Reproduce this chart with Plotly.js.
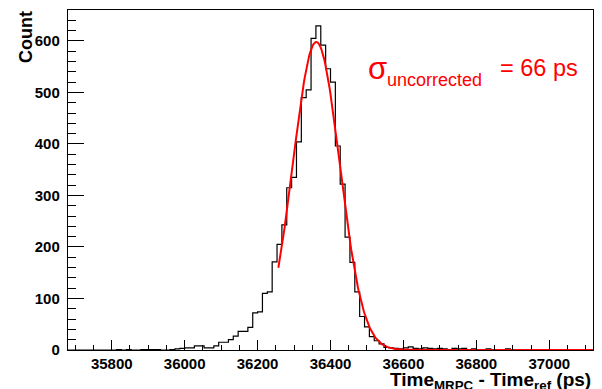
<!DOCTYPE html>
<html>
<head>
<meta charset="utf-8">
<script src="https://cdn.plot.ly/plotly-3.0.1.min.js"></script>
<style>html,body{margin:0;padding:0;background:#fff;}#chart{width:602px;height:389px;}</style>
</head>
<body>
<div id="chart"></div>
<script>
// Histogram binning (ps)
const binLow = 35680;
const binWidth = 40 / 3;
// Counts per bin (108 bins, 35680 .. 37120 ps)
const counts = [
  0, 0, 0, 0, 0, 0, 0, 0, 0, 0,
  1, 0, 1, 0, 0, 1, 1, 1, 1, 0,
  0, 1, 2, 3, 4, 4, 8, 8, 4, 4,
  8, 15, 15, 20, 27, 36, 36, 44, 72, 74,
  110, 113, 171, 205, 243, 315, 335, 404, 490, 505,
  605, 629, 592, 546, 520, 396, 322, 219, 170, 113,
  65, 45, 26, 18, 12, 5, 4, 3, 2, 4,
  6, 3, 2, 4, 3, 2, 3, 2, 1, 3,
  2, 3, 1, 2, 1, 0, 2, 1, 0, 1,
  2, 1, 0, 1, 0, 1, 0, 0, 1, 0,
  0, 1, 0, 0, 0, 0, 0, 0
];
// Gaussian fit parameters
const fitAmp = 598;
const fitMean = 36361;
const fitSigma = 64;
const fitRange = [36257, 37120];
// Axis
const xRange = [35680, 37120];
const yRange = [0, 660];
const sigmaLabel = "66 ps";

const edgesX = [], edgesY = [];
for (let i = 0; i < counts.length; i++) {
  edgesX.push(binLow + i * binWidth);
  edgesY.push(counts[i]);
}
edgesX.push(binLow + counts.length * binWidth);
edgesY.push(counts[counts.length - 1]);

const fx = [], fy = [];
for (let x = fitRange[0]; x <= fitRange[1]; x += 2) {
  fx.push(x);
  fy.push(fitAmp * Math.exp(-0.5 * Math.pow((x - fitMean) / fitSigma, 2)));
}

const hist = {
  x: edgesX, y: edgesY, type: 'scatter', mode: 'lines',
  line: {shape: 'hv', color: '#000', width: 1.2},
  hoverinfo: 'skip', showlegend: false
};
const fit = {
  x: fx, y: fy, type: 'scatter', mode: 'lines',
  line: {color: '#ff0000', width: 2},
  hoverinfo: 'skip', showlegend: false
};

const FONT = 'Liberation Sans, Arial, Helvetica, sans-serif';
const px2paper = (px) => (px - 68) / (593 - 68);

const layout = {
  width: 602, height: 389,
  margin: {l: 68, r: 9, t: 10, b: 39},
  paper_bgcolor: '#fff', plot_bgcolor: '#fff',
  showlegend: false,
  xaxis: {
    range: xRange, showgrid: false, zeroline: false,
    showline: true, mirror: true, linecolor: '#000', linewidth: 1.2,
    ticks: 'inside', ticklen: 10, tickwidth: 1, tickcolor: '#000',
    tick0: 35800, dtick: 200,
    minor: {ticks: 'inside', ticklen: 5, tick0: 35700, dtick: 50, tickcolor: '#000', tickwidth: 1, showgrid: false},
    tickfont: {family: FONT, size: 15, color: '#000', weight: 'bold'},
    tickformat: 'd', ticklabelstandoff: 0
  },
  yaxis: {
    range: yRange, showgrid: false, zeroline: false,
    showline: true, mirror: true, linecolor: '#000', linewidth: 1.2,
    ticks: 'inside', ticklen: 16, tickwidth: 1, tickcolor: '#000',
    tick0: 0, dtick: 100,
    minor: {ticks: 'inside', ticklen: 8, tick0: 0, dtick: 20, tickcolor: '#000', tickwidth: 1, showgrid: false},
    tickfont: {family: FONT, size: 15, color: '#000', weight: 'bold'},
    ticklabelstandoff: 4
  },
  annotations: [
    {text: 'Count', textangle: -90, xref: 'paper', yref: 'paper', x: 0, y: 1,
     xanchor: 'center', yanchor: 'top', xshift: -42, yshift: 1, showarrow: false,
     font: {family: FONT, size: 18, color: '#000', weight: 'bold'}},
    {text: 'Time<sub>MRPC</sub> - Time<sub>ref</sub> (ps)', xref: 'paper', yref: 'paper',
     x: 1, y: 0, xanchor: 'right', yanchor: 'top', yshift: -17, xshift: 0, showarrow: false,
     font: {family: FONT, size: 19, color: '#000', weight: 'bold'}},
    {text: 'σ', xref: 'paper', yref: 'paper', x: px2paper(366), y: 1, xanchor: 'left', yanchor: 'top',
     yshift: -39, showarrow: false, font: {family: FONT, size: 31, color: '#ff0000'}},
    {text: 'uncorrected', xref: 'paper', yref: 'paper', x: px2paper(385), y: 1, xanchor: 'left', yanchor: 'top',
     yshift: -58, showarrow: false, font: {family: FONT, size: 18, color: '#ff0000'}},
    {text: '= ' + sigmaLabel, xref: 'paper', yref: 'paper', x: px2paper(498), y: 1, xanchor: 'left', yanchor: 'top',
     yshift: -43, showarrow: false, font: {family: FONT, size: 23.5, color: '#ff0000'}}
  ]
};

Plotly.newPlot('chart', [hist, fit], layout, {staticPlot: true, displayModeBar: false});
</script>
</body>
</html>
